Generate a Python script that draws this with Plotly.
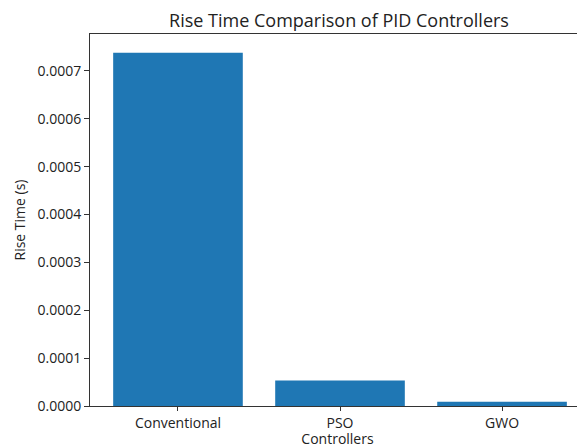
import plotly.graph_objects as go

controllers = ["Conventional", "PSO", "GWO"]
rise_times = [0.000738, 0.0000535, 0.0000088]
y_ticks = [0.0, 0.0001, 0.0002, 0.0003, 0.0004, 0.0005, 0.0006, 0.0007]
y_tick_labels = ["0.0000", "0.0001", "0.0002", "0.0003", "0.0004", "0.0005", "0.0006", "0.0007"]

FONT = "Open Sans"
W, H = 577, 440  # page body has an 8px margin in the browser

fig = go.Figure(go.Bar(
    x=list(range(len(controllers))),
    y=rise_times,
    width=0.8,
    marker=dict(color="#1f77b4", line=dict(width=0)),
))

fig.update_layout(
    width=W, height=H,
    margin=dict(l=82, r=0, t=26, b=42, autoexpand=False),
    paper_bgcolor="white", plot_bgcolor="white",
    font=dict(family=FONT, size=14, color="#222"),
    showlegend=False,
    title=dict(text="Rise Time Comparison of PID Controllers",
               x=331 / W, xanchor="center",
               y=1 - 13 / H, yanchor="middle",
               font=dict(family=FONT, size=18, color="#222")),
    xaxis=dict(
        range=[-0.543, 2.512],
        tickmode="array", tickvals=list(range(len(controllers))), ticktext=controllers,
        showline=True, linecolor="#333", linewidth=1, mirror=True,
        ticks="outside", ticklen=4, tickcolor="#333",
        showgrid=False, zeroline=False,
        title=dict(text="Controllers", standoff=4, font=dict(family=FONT, size=14)),
        automargin=False,
    ),
    yaxis=dict(
        range=[0, 0.000777],
        tickmode="array", tickvals=y_ticks, ticktext=y_tick_labels,
        showline=True, linecolor="#333", linewidth=1, mirror=False,
        ticks="outside", ticklen=5, tickcolor="#333",
        showgrid=False, zeroline=False,
        title=dict(text="Rise Time (s)", standoff=8, font=dict(family=FONT, size=14)),
        automargin=False,
    ),
)

fig.write_html("out.html")
